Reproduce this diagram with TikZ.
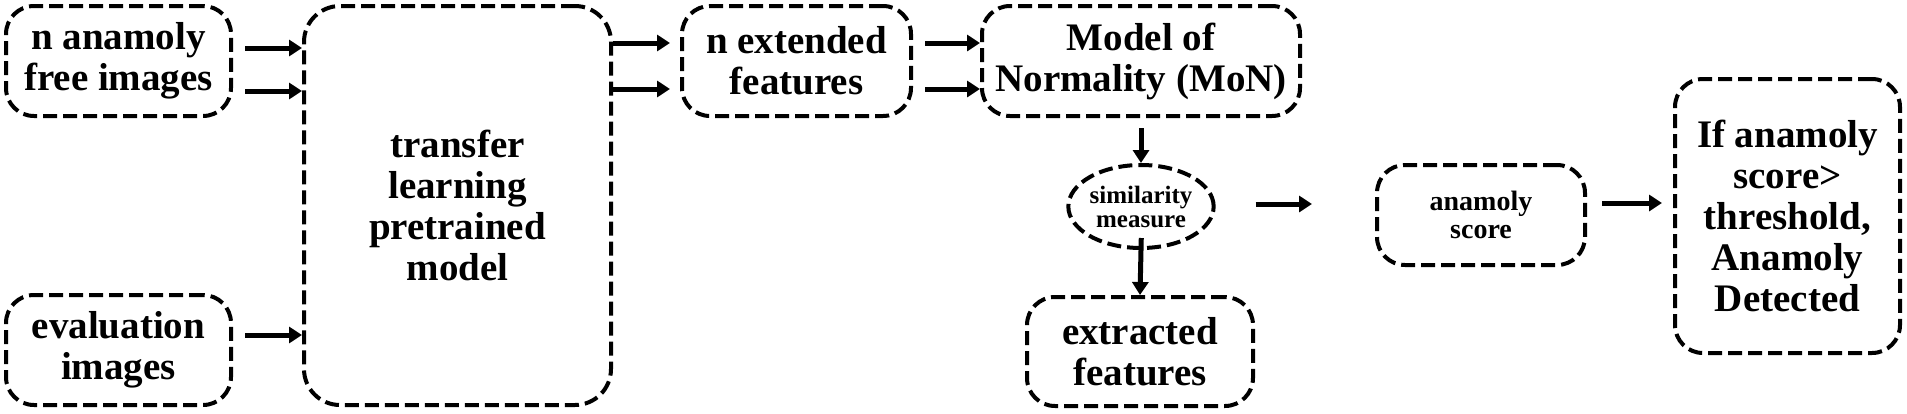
\documentclass[tikz,border=0pt]{standalone}
\usepackage{fontspec}
\setmainfont{Liberation Serif}
\usetikzlibrary{shapes.geometric,arrows.meta}
\tikzset{
  blk/.style={draw,dash pattern=on 14pt off 6pt,line width=4pt,rounded corners=28pt,align=center,inner sep=0pt,font=\fontsize{39}{41}\selectfont\bfseries},
  arr/.style={line width=5pt,-{Triangle[length=13pt,width=16pt]}}
}
\begin{document}
\begin{tikzpicture}[x=1pt,y=-1pt]
\useasboundingbox (0,0) rectangle (1907,413);
\node[blk,minimum width=225pt,minimum height=110pt] (free) at (118.5,61) {n anamoly\\free images};
\node[blk,minimum width=225pt,minimum height=110pt] (eval) at (118.5,350) {evaluation\\images};
\node[blk,minimum width=307pt,minimum height=399pt,rounded corners=36pt] (tl) at (457.5,205.5) {transfer\\learning\\pretrained\\model};
\node[blk,minimum width=229pt,minimum height=110pt] (ext) at (796.5,61) {n extended\\features};
\node[blk,minimum width=318pt,minimum height=110pt] (mon) at (1141,61) {Model of\\Normality (MoN)};
\node[blk,ellipse,minimum width=141pt,minimum height=83pt,font=\fontsize{25}{24}\selectfont\bfseries] (sim) at (1141,206.5) {similarity\\measure};
\node[blk,minimum width=226pt,minimum height=109pt] (feat) at (1140,351.5) {extracted\\features};
\node[blk,minimum width=208pt,minimum height=100pt,font=\fontsize{28}{28}\selectfont\bfseries] (score) at (1481,215) {anamoly\\score};
\node[blk,minimum width=225pt,minimum height=274pt] (det) at (1787.5,216) {If anamoly\\score>\\threshold,\\Anamoly\\Detected};
\draw[arr,shorten <=12pt] (free.east |- 0,48) -- (tl.west |- 0,48);
\draw[arr,shorten <=12pt] (free.east |- 0,91) -- (tl.west |- 0,91);
\draw[arr,shorten <=12pt] (eval.east |- 0,335) -- (tl.west |- 0,335);
\draw[arr,shorten >=10pt] (tl.east |- 0,43) -- (ext.west |- 0,43);
\draw[arr,shorten >=10pt] (tl.east |- 0,89) -- (ext.west |- 0,89);
\draw[arr,shorten <=12pt] (ext.east |- 0,43) -- (mon.west |- 0,43);
\draw[arr,shorten <=12pt] (ext.east |- 0,89) -- (mon.west |- 0,89);
\draw[arr,shorten <=10pt] (mon.south) -- (sim.north);
\draw[arr,shorten <=-12pt] (sim.south) -- (feat.north);
\draw[arr,shorten <=40pt,shorten >=63pt] (sim.east |- 0,204) -- (score.west |- 0,204);
\draw[arr,shorten <=15pt,shorten >=11pt] (score.east |- 0,203) -- (det.west |- 0,203);
\end{tikzpicture}
\end{document}
